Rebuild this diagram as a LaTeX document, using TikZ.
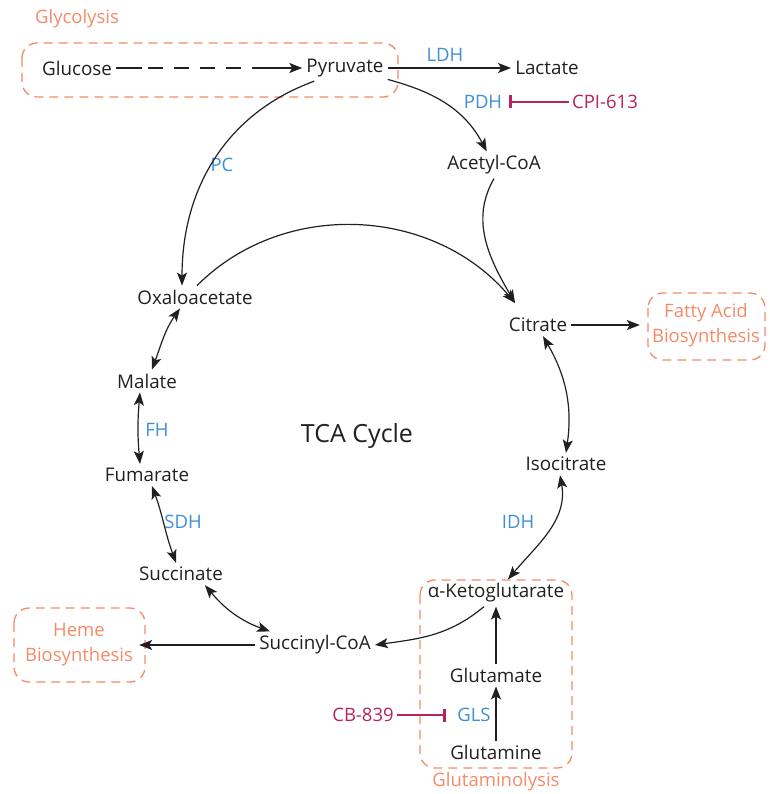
\documentclass[tikz,border=0pt]{standalone}
\usepackage{fontspec}
\setmainfont{Open Sans}
\usetikzlibrary{arrows.meta,calc}
\definecolor{ink}{HTML}{231F20}
\definecolor{orng}{HTML}{F58A68}
\definecolor{enzblue}{HTML}{3D8FD6}
\definecolor{drugred}{HTML}{B5245C}
\begin{document}
\begin{tikzpicture}[x=1pt,y=1pt,
  met/.style={text=ink,font=\fontsize{18.8}{22}\selectfont,inner sep=4pt},
  enz/.style={text=enzblue,font=\fontsize{18.5}{22}\selectfont,inner sep=3pt},
  drug/.style={text=drugred,font=\fontsize{18.5}{22}\selectfont,inner sep=3pt},
  grp/.style={text=orng,font=\fontsize{18.5}{25}\selectfont,inner sep=2pt,align=center},
  grpbox/.style={draw=orng,line width=1.3pt,dash pattern=on 9pt off 6pt,rounded corners=15pt},
  tip/.tip={Stealth[length=13pt,width=10pt,inset=3pt]},
  line/.style={draw=ink,line width=1.2pt},
  rxn/.style={line,-tip},
  rev/.style={line,tip-tip},
  inh/.style={draw=drugred,line width=1.2pt,-{Bar[width=13pt,line width=3pt]}}
]
\useasboundingbox (0,0) rectangle (769,-794);

% group boxes
\draw[grpbox] (22,-43) rectangle (398,-97);
\draw[grpbox] (648,-293) rectangle (765,-360);
\draw[grpbox] (14,-608) rectangle (145,-682);
\draw[grpbox] (420,-580) rectangle (572,-768);

\node[grp] (glyco) at (77,-19) {Glycolysis};
\node[grp] (fatty) at (706,-325) {Fatty Acid\\Biosynthesis};
\node[grp] (heme) at (79,-645) {Heme\\Biosynthesis};
\node[grp] (glutlys) at (496,-782) {Glutaminolysis};

% metabolites
\node[met] (glc) at (77,-68) {Glucose};
\node[met] (pyr) at (345,-68) {Pyruvate};
\node[met] (lac) at (547,-68) {Lactate};
\node[met] (acoa) at (494,-165) {Acetyl-CoA};
\node[met] (oaa) at (195,-297) {Oxaloacetate};
\node[met] (cit) at (538,-325) {Citrate};
\node[met] (mal) at (147,-381) {Malate};
\node[met] (fum) at (147,-475) {Fumarate};
\node[met] (icit) at (566,-464) {Isocitrate};
\node[met] (suc) at (181,-574) {Succinate};
\node[met] (akg) at (496,-593) {α-Ketoglutarate};
\node[met] (scoa) at (315,-645) {Succinyl-CoA};
\node[met] (glu) at (496,-675) {Glutamate};
\node[met] (gln) at (496,-752) {Glutamine};
\node[text=ink,font=\fontsize{25}{28}\selectfont] (tca) at (357,-436) {TCA Cycle};

% enzymes and drugs
\node[enz] (ldh) at (445,-55) {LDH};
\node[enz] (pdh) at (483,-102) {PDH};
\node[drug] (cpi) at (605,-102) {CPI-613};
\node[enz] (pc) at (222,-165) {PC};
\node[enz] (fh) at (157,-430) {FH};
\node[enz] (sdh) at (183,-522) {SDH};
\node[enz] (idh) at (518,-522) {IDH};
\node[enz] (gls) at (474,-715) {GLS};
\node[drug] (cb) at (363,-715) {CB-839};

% glycolysis
\coordinate (g1) at (142,-68);
\coordinate (g2) at (252,-68);
\draw[line] (glc) -- (g1);
\draw[line,dash pattern=on 15pt off 11pt,dash phase=20pt] (g1) -- (g2);
\draw[rxn] (g2) -- (pyr);
\draw[rxn] (pyr) -- (lac);
\draw[rxn] (pyr) to[out=-15,in=118] (acoa);
\draw[rxn] (pyr.south west) ++(12,0) to[out=200,in=90] ([xshift=-13pt]oaa.north);
\draw[inh] (cpi) -- ([xshift=4pt]pdh.east);

% TCA
\coordinate (citin) at (515,-303);
\draw[rxn] ([xshift=2pt]oaa.north) to[out=45,in=130] (citin);
\draw[rxn] (acoa.south) to[out=240,in=120] (citin);
\draw[rxn] (cit) -- ([xshift=-10pt]fatty.west);
\draw[rev] ([xshift=5pt]cit.south) to[out=-60,in=82] (icit.north);
\draw[rev] ([xshift=-6pt]icit.south) to[out=-80,in=50] ([xshift=12pt]akg.north);
\draw[rxn] ([xshift=-12pt]akg.south) to[out=220,in=8] (scoa.east);
\draw[rxn] (scoa) -- ([xshift=4pt]heme.east);
\draw[rev] ([xshift=24pt]suc.south) to[out=-50,in=160] ([xshift=-45pt]scoa.north);
\draw[rev] ([xshift=-5pt]suc.north) to[out=110,in=-70] ([xshift=5pt]fum.south);
\draw[rev] ([xshift=-7pt]fum.north) to[out=95,in=-95] ([xshift=-7pt]mal.south);
\draw[rev] ([xshift=5pt]mal.north) to[out=70,in=235] ([xshift=-15pt]oaa.south);

% glutaminolysis
\draw[rxn] (glu) -- (akg);
\draw[rxn] (gln) -- (glu);
\draw[inh] (cb) -- ([xshift=-8pt]gls.west);
\end{tikzpicture}
\end{document}
